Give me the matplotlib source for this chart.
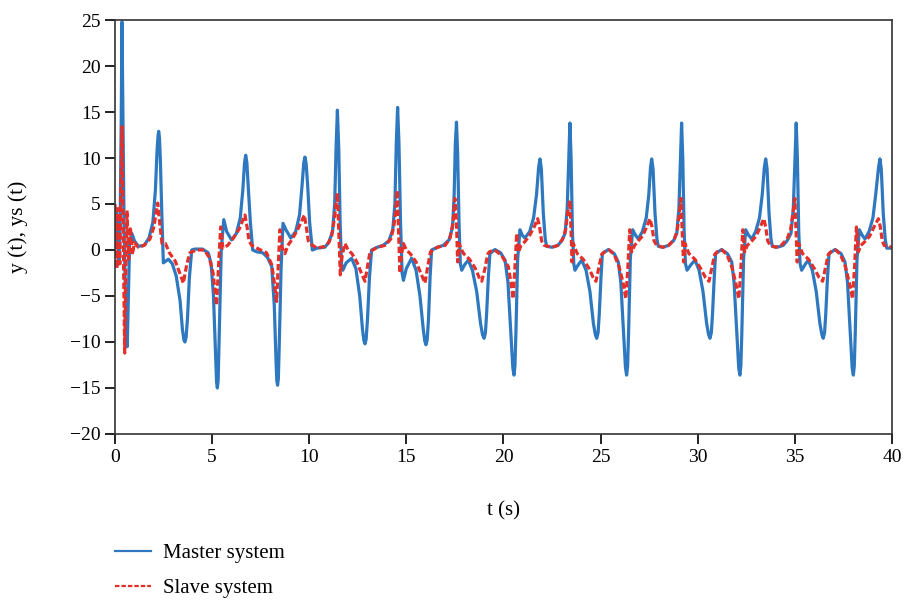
import matplotlib
matplotlib.use("Agg")
import matplotlib.pyplot as plt

# master system y(t): (t, y) points
master_pts = [
    (0.0, 0.3), (0.06, 4.5), (0.14, 2.5), (0.2, -1.5), (0.27, 4), (0.32, 14), (0.36, 24.8), (0.41, 14),
    (0.47, 2), (0.55, -6), (0.6, -9.8), (0.63, -10.5), (0.68, -6), (0.75, 0.5), (0.87, 1.8), (1.0, 1.0),
    (1.2, 0.4), (1.5, 0.5), (1.75, 1.3), (1.95, 3.0), (2.08, 6.5), (2.17, 11), (2.22, 12.5), (2.25, 12.9),
    (2.29, 12.2), (2.34, 9.5), (2.41, 4), (2.49, -1.4), (2.62, -1.2), (2.75, -1.0), (2.95, -1.5), (3.15, -2.8),
    (3.35, -5.5), (3.47, -8.6), (3.55, -9.8), (3.6, -10.0), (3.66, -9.5), (3.73, -7.5), (3.83, -3), (3.95, 0),
    (4.1, 0.1), (4.5, 0.1), (4.8, -0.3), (4.95, -1.5), (5.07, -5), (5.17, -11), (5.23, -14.4), (5.27, -15.0),
    (5.31, -14.2), (5.37, -9), (5.47, 0), (5.6, 3.3), (5.75, 2), (6.0, 1.1), (6.25, 1.8), (6.45, 3.5),
    (6.58, 6.5), (6.67, 9.5), (6.73, 10.3), (6.79, 9.5), (6.87, 6.5), (6.97, 3), (7.09, 0), (7.3, -0.2),
    (7.6, -0.3), (7.85, -0.8), (8.07, -1.8), (8.2, -6), (8.29, -12), (8.33, -14.2), (8.37, -14.7),
    (8.41, -14), (8.46, -10), (8.55, -2), (8.65, 2.9), (8.8, 2.2), (9.05, 1.3), (9.3, 2), (9.5, 3.8),
    (9.63, 7), (9.72, 9.5), (9.78, 10.1), (9.84, 9.4), (9.92, 7), (10.02, 3), (10.16, 0), (10.4, 0.2),
    (10.8, 0.3), (11.0, 0.8), (11.2, 2.0), (11.31, 5), (11.38, 11), (11.45, 15.2), (11.52, 11), (11.59, 3),
    (11.66, -1.5), (11.73, -2.2), (11.9, -1.4), (12.18, -0.9), (12.4, -2), (12.6, -5), (12.74, -8.6),
    (12.81, -9.8), (12.87, -10.2), (12.93, -9.7), (13.0, -7.5), (13.1, -3), (13.21, 0), (13.5, 0.3),
    (13.8, 0.5), (14.1, 1.0), (14.3, 2.2), (14.41, 5), (14.48, 11.5), (14.55, 15.5), (14.62, 11.5),
    (14.7, 3), (14.78, -2.5), (14.85, -3.3), (15.0, -2.0), (15.27, -0.9), (15.5, -2.2), (15.7, -5),
    (15.87, -8.6), (15.95, -9.9), (16.01, -10.3), (16.07, -9.8), (16.14, -7.5), (16.22, -3), (16.3, 0),
    (16.6, 0.3), (16.9, 0.5), (17.2, 1.1), (17.38, 2.5), (17.46, 6), (17.52, 11.5), (17.58, 13.9),
    (17.64, 10.5), (17.71, 3), (17.78, -1.5), (17.85, -2.2), (18.0, -1.6), (18.19, -1.1), (18.4, -2.2),
    (18.62, -4.5), (18.82, -8), (18.92, -9.2), (19.0, -9.6), (19.07, -9.0), (19.13, -7), (19.22, -3),
    (19.3, -0.4), (19.56, 0.05), (19.85, -0.3), (20.08, -1.1), (20.23, -3.5), (20.38, -9), (20.48, -12.8),
    (20.54, -13.6), (20.59, -12.6), (20.64, -9), (20.73, -1), (20.85, 2.2), (20.97, 1.6), (21.1, 1.3),
    (21.35, 2), (21.55, 3.5), (21.7, 6), (21.81, 9), (21.88, 9.9), (21.95, 8.8), (22.05, 4), (22.15, 1.2),
    (22.22, 0.4), (22.5, 0.3), (22.8, 0.5), (23.0, 1.0), (23.17, 1.8), (23.28, 4.5), (23.36, 10),
    (23.42, 13.8), (23.48, 10), (23.55, 2), (23.62, -1.5), (23.68, -2.2), (23.85, -1.6), (24.03, -1.1),
    (24.25, -2.2), (24.45, -4.5), (24.63, -8), (24.73, -9.2), (24.8, -9.6), (24.87, -9.0), (24.93, -7),
    (25.02, -3), (25.09, -0.4), (25.4, 0.05), (25.7, -0.4), (25.91, -1.3), (26.04, -3.5), (26.18, -9),
    (26.28, -12.8), (26.34, -13.6), (26.39, -12.6), (26.44, -9), (26.53, -1), (26.65, 2.2), (26.8, 1.6),
    (26.94, 1.2), (27.15, 2), (27.35, 3.5), (27.48, 6), (27.57, 9), (27.63, 9.9), (27.7, 8.8), (27.8, 4),
    (27.9, 1.2), (27.97, 0.4), (28.2, 0.3), (28.5, 0.5), (28.75, 1.0), (28.92, 1.8), (29.03, 4.5),
    (29.11, 10), (29.17, 13.8), (29.23, 10), (29.3, 2), (29.37, -1.5), (29.45, -2.2), (29.65, -1.6),
    (29.86, -1.1), (30.07, -2.2), (30.27, -4.5), (30.46, -8), (30.56, -9.2), (30.63, -9.6), (30.7, -9.0),
    (30.76, -7), (30.85, -3), (30.92, -0.4), (31.23, 0.05), (31.53, -0.4), (31.75, -1.3), (31.87, -3.5),
    (32.01, -9), (32.11, -12.8), (32.17, -13.6), (32.22, -12.6), (32.27, -9), (32.36, -1), (32.47, 2.2),
    (32.62, 1.6), (32.78, 1.2), (32.98, 2), (33.18, 3.5), (33.32, 6), (33.43, 9), (33.5, 9.9), (33.57, 8.8),
    (33.67, 4), (33.77, 1.2), (33.84, 0.4), (34.1, 0.3), (34.4, 0.5), (34.6, 1.0), (34.8, 1.8), (34.92, 4.5),
    (35.01, 10), (35.07, 13.8), (35.13, 10), (35.2, 2), (35.27, -1.5), (35.35, -2.2), (35.52, -1.6),
    (35.69, -1.1), (35.9, -2.2), (36.1, -4.5), (36.29, -8), (36.39, -9.2), (36.46, -9.6), (36.53, -9.0),
    (36.59, -7), (36.68, -3), (36.76, -0.4), (37.07, 0.05), (37.38, -0.4), (37.58, -1.3), (37.71, -3.5),
    (37.85, -9), (37.95, -12.8), (38.01, -13.6), (38.06, -12.6), (38.11, -9), (38.2, -1), (38.32, 2.2),
    (38.47, 1.6), (38.61, 1.2), (38.82, 2), (39.02, 3.5), (39.16, 6), (39.31, 9), (39.38, 9.9), (39.45, 8.8),
    (39.55, 4), (39.65, 1.2), (39.73, 0.2), (40.0, 0.2),
]
t_master = [p[0] for p in master_pts]
y_master = [p[1] for p in master_pts]

# slave system ys(t)
t_slave = [
    0.0, 0.05, 0.1, 0.15, 0.2, 0.25, 0.3, 0.36, 0.42, 0.5, 0.56, 0.62, 0.7, 0.79, 0.9, 1.0, 1.2, 1.5, 1.8,
    2.0, 2.2, 2.3, 2.42, 2.6, 2.8, 3.1, 3.35, 3.52, 3.7, 3.86, 4.2, 4.6, 4.85, 5.05, 5.23, 5.35, 5.44, 5.55,
    5.8, 6.1, 6.4, 6.69, 6.8, 6.9, 7.04, 7.4, 7.8, 8.07, 8.2, 8.32, 8.42, 8.49, 8.6, 8.75, 8.9, 9.1, 9.4,
    9.75, 9.85, 9.95, 10.04, 10.4, 10.8, 11.0, 11.15, 11.3, 11.45, 11.52, 11.6, 11.7, 11.84, 12.0, 12.2,
    12.45, 12.7, 12.87, 13.0, 13.13, 13.5, 13.9, 14.2, 14.35, 14.45, 14.53, 14.6, 14.67, 14.75, 14.85, 15.0,
    15.2, 15.5, 15.8, 15.96, 16.1, 16.24, 16.6, 17.0, 17.25, 17.4, 17.5, 17.58, 17.64, 17.72, 17.8, 17.95,
    18.25, 18.55, 18.75, 18.88, 19.05, 19.18, 19.27, 19.55, 19.9, 20.25, 20.38, 20.5, 20.6, 20.68, 20.78,
    20.9, 21.1, 21.35, 21.6, 21.76, 21.86, 21.96, 22.1, 22.5, 22.8, 23.05, 23.2, 23.3, 23.42, 23.48, 23.53,
    23.6, 23.68, 23.8, 24.1, 24.4, 24.62, 24.76, 24.9, 25.05, 25.2, 25.45, 25.7, 25.95, 26.15, 26.3, 26.4,
    26.5, 26.6, 26.75, 26.9, 27.15, 27.35, 27.54, 27.65, 27.75, 27.89, 28.2, 28.5, 28.8, 28.95, 29.05,
    29.14, 29.2, 29.27, 29.35, 29.43, 29.55, 29.85, 30.15, 30.4, 30.58, 30.72, 30.87, 31.0, 31.25, 31.5,
    31.75, 31.95, 32.12, 32.22, 32.32, 32.42, 32.55, 32.75, 33.0, 33.2, 33.4, 33.5, 33.6, 33.73, 34.0,
    34.3, 34.6, 34.78, 34.9, 35.0, 35.06, 35.12, 35.2, 35.28, 35.4, 35.7, 36.0, 36.25, 36.43, 36.57,
    36.72, 36.85, 37.1, 37.35, 37.6, 37.8, 37.97, 38.07, 38.17, 38.27, 38.4, 38.6, 38.85, 39.05, 39.3,
    39.4, 39.5, 39.6, 40.0,
]
y_slave = [
    5.0, 1, -2, 4.5, 0, -1.5, 6, 13.4, 2, -11.2, -2, 4.3, -1, 2.5, -0.5, 0.8, 0.3, 0.5, 1.2,
    2.5, 5.1, 3, 0.7, 0.7, -0.3, -1.2, -2.6, -3.6, -1.5, -0.3, 0, 0, -0.8, -2.5, -6.0, -1, 2.5, 0.2,
    0.5, 1.3, 2.3, 3.8, 2.5, 1, 0.5, 0.1, -0.3, -1.6, -3.5, -5.6, -1, 2.2, 0.3, -0.4, 0.5, 1.1, 2.2,
    3.8, 2.5, 1, 0.7, 0.2, 0.4, 0.8, 1.5, 3.5, 6.2, 2, -2.7, -0.5, 0.7, 0, -0.4,
    -1.3, -2.6, -3.4, -1.8, -0.2, 0.3, 0.5, 1.2, 2.5, 4.2, 6.5, 2, -2.5, -0.5, 0.7, 0,
    -0.4, -1.3, -2.8, -3.6, -1.8, -0.2, 0.3, 0.5, 1.3, 3, 5.6, 3, -1.3, 0.7, 0.2, -0.4,
    -1.0, -2.0, -3.0, -3.4, -2, -0.5, -0.2, 0, -0.6, -1.8, -3.5, -5.3, -1.5, 1.8, -0.2,
    0.5, 0.9, 1.6, 2.6, 3.4, 2.5, 1.0, 0.5, 0.3, 0.5, 1.2, 2.2, 4, 5.4, 2, -1.3,
    0.7, 0.2, -0.4, -1.0, -2.0, -3.0, -3.4, -2, -0.5, -0.2, 0, -0.5, -1.8, -3.5, -5.3, -2,
    2.2, -0.2, 0.5, 0.9, 1.5, 2.4, 3.4, 2.5, 1.0, 0.5, 0.3, 0.5, 1.2, 2.2, 4,
    5.6, 2, -1.3, 0.7, 0.2, -0.4, -1.0, -2.0, -3.0, -3.4, -2, -0.5, -0.2, 0, -0.5,
    -1.8, -3.5, -5.3, -2, 2.2, -0.2, 0.5, 0.9, 1.5, 2.4, 3.4, 2.5, 1.0, 0.5, 0.3,
    0.5, 1.2, 2.2, 4, 5.6, 2, -1.3, 0.7, 0.2, -0.4, -1.0, -2.0, -3.0, -3.4, -2,
    -0.5, -0.2, 0, -0.5, -1.8, -3.5, -5.3, -2, 2.5, -0.2, 0.5, 0.9, 1.5, 2.4, 3.4,
    2.5, 1.0, 0.5, 0.3,
]

x_ticks = [0, 5, 10, 15, 20, 25, 30, 35, 40]
y_ticks = [-20, -15, -10, -5, 0, 5, 10, 15, 20, 25]

plt.rcParams['font.family'] = ['Liberation Serif', 'DejaVu Serif']
plt.rcParams['font.size'] = 14
plt.rcParams['axes.unicode_minus'] = True

fig = plt.figure(figsize=(9.04, 6.01), dpi=100)
ax = fig.add_axes([0.1272, 0.2779, 0.8595, 0.6888])

ax.plot(t_master, y_master, color='#2e78c0', lw=2.3, label='Master system')
ax.plot(t_slave, y_slave, color='#e4302a', lw=2.3, ls=(0, (2.0, 0.9)), label='Slave system')

ax.set_xlim(0, 40)
ax.set_ylim(-20, 25)
ax.set_xticks(x_ticks)
ax.set_yticks(y_ticks)
ax.tick_params(direction='out', length=7, width=1.4, color='#222222', labelsize=14)
for s in ax.spines.values():
    s.set_linewidth(1.2)
    s.set_color('#333333')

ax.set_xlabel('t (s)', fontsize=15)
ax.set_ylabel('y (t), ys (t)', fontsize=15.5)
ax.xaxis.set_label_coords(0.5, -0.162)
ax.yaxis.set_label_coords(-0.112, 0.5)

handles, labels = ax.get_legend_handles_labels()
leg = fig.legend(handles, labels, loc='upper left', bbox_to_anchor=(0.107, 0.127),
                 frameon=False, fontsize=15, handlelength=1.7, labelspacing=0.75,
                 handletextpad=0.6)
for h in leg.legend_handles:
    h.set_linewidth(1.6)

fig.savefig('out.png', dpi=100)
